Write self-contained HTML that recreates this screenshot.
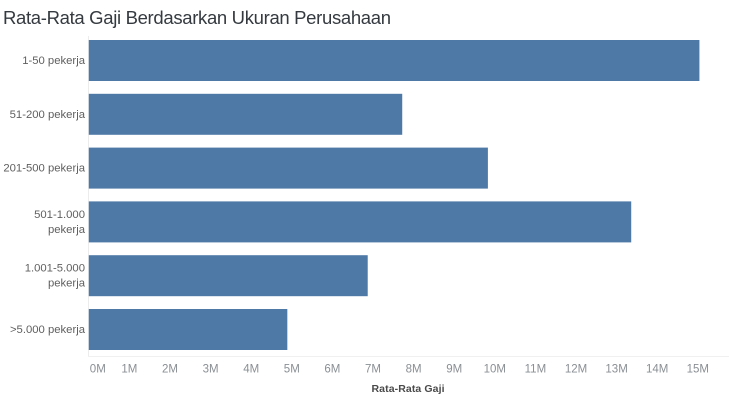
<!DOCTYPE html>
<html lang="id">
<head>
<meta charset="utf-8">
<title>Rata-Rata Gaji Berdasarkan Ukuran Perusahaan</title>
<style>
html,body{margin:0;padding:0;background:#fff;}
body{width:729px;height:400px;overflow:hidden;}
svg{display:block;font-family:"Liberation Sans",sans-serif;}
</style>
</head>
<body>
<svg id="chart" width="729" height="400" viewBox="0 0 729 400">
<text x="3" y="24" font-size="18.5" fill="#343a40" textLength="388" lengthAdjust="spacing">Rata-Rata Gaji Berdasarkan Ukuran Perusahaan</text>
<line x1="88.5" y1="36" x2="88.5" y2="356" stroke="#ececec"></line>
<line x1="88" y1="356.5" x2="729" y2="356.5" stroke="#f0f0f0"></line>
<g id="bars"></g>
<g id="y-labels"></g>
<g id="x-ticks"></g>
<text x="408" y="392" font-size="10.5" font-weight="bold" fill="#4a4a4a" text-anchor="middle" textLength="73" lengthAdjust="spacing">Rata-Rata Gaji</text>
</svg>
<script>
const categories = [["1-50 pekerja"], ["51-200 pekerja"], ["201-500 pekerja"], ["501-1.000", "pekerja"], ["1.001-5.000", "pekerja"], [">5.000 pekerja"]];
const salaries = [15.04, 7.72, 9.83, 13.36, 6.87, 4.89];
const tickValues = [0, 1, 2, 3, 4, 5, 6, 7, 8, 9, 10, 11, 12, 13, 14, 15];
const tickLabels = ["0M", "1M", "2M", "3M", "4M", "5M", "6M", "7M", "8M", "9M", "10M", "11M", "12M", "13M", "14M", "15M"];

const SVG_NS = "http://www.w3.org/2000/svg";
const xScale = function (v) { return 88.8 + 40.6 * v; };
const bandTop = function (i) { return 40 + 53.8 * i; };
const BAR_HEIGHT = 41;

const barsGroup = document.getElementById("bars");
const yLabelGroup = document.getElementById("y-labels");
const xTickGroup = document.getElementById("x-ticks");

salaries.forEach(function (value, i) {
  const bar = document.createElementNS(SVG_NS, "rect");
  bar.setAttribute("x", xScale(0));
  bar.setAttribute("y", bandTop(i));
  bar.setAttribute("width", xScale(value) - xScale(0));
  bar.setAttribute("height", BAR_HEIGHT);
  bar.setAttribute("fill", "#4e79a7");
  
  
  barsGroup.appendChild(bar);

  const lines = categories[i];
  const mid = bandTop(i) + BAR_HEIGHT / 2;
  lines.forEach(function (line, j) {
    const label = document.createElementNS(SVG_NS, "text");
    label.setAttribute("x", 85);
    label.setAttribute("y", mid + 3.5 + (j - (lines.length - 1) / 2) * 15);
    label.setAttribute("font-size", "11.3");
    label.setAttribute("fill", "#5f5f5f");
    label.setAttribute("text-anchor", "end");
    
    
    label.textContent = line;
    yLabelGroup.appendChild(label);
  });
});

tickValues.forEach(function (value, i) {
  const tick = document.createElementNS(SVG_NS, "text");
  tick.setAttribute("x", value === 0 ? xScale(value) + 9 : xScale(value));
  tick.setAttribute("y", 372.5);
  tick.setAttribute("font-size", "11.5");
  tick.setAttribute("fill", "#8a8f94");
  tick.setAttribute("text-anchor", "middle");
  
  
  tick.textContent = tickLabels[i];
  xTickGroup.appendChild(tick);
});
</script>
</body>
</html>
